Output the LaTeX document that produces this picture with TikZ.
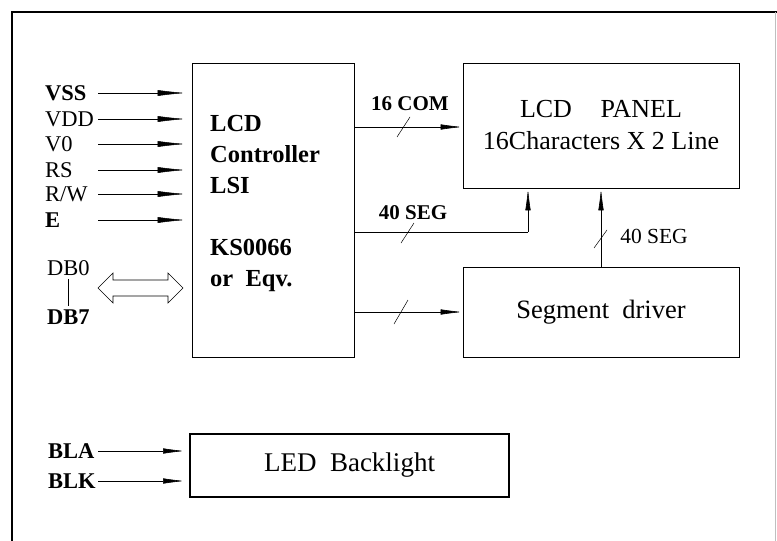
\documentclass[tikz,border=0pt]{standalone}
\usepackage{fontspec}
\setmainfont{Liberation Serif}
\usetikzlibrary{arrows.meta,calc}
\begin{document}
\begin{tikzpicture}[x=1pt,y=-1pt,
  blk/.style={draw,line width=0.8pt,inner sep=0pt},
  lab/.style={anchor=west,inner sep=0pt,font=\fontsize{22.5}{22}\selectfont},
  blab/.style={lab,font=\fontsize{22.5}{22}\selectfont\bfseries},
  sig/.style={line width=0.5pt,-{Latex[length=28pt,width=6pt]}},
  sigs/.style={line width=0.6pt,-{Latex[length=22pt,width=5.5pt]}},
  wire/.style={line width=0.6pt},
  slash/.style={line width=0.5pt}
]
\useasboundingbox (0,0) rectangle (777,541);
% frame
\draw[line width=2pt] (777,12) -- (12,12) -- (12,541);
\draw[black!25,line width=0.8pt] (775,12) -- (775,541);

% blocks
\node[blk,minimum width=162pt,minimum height=294pt] (ctrl) at (273,210) {};
\node[anchor=west,inner sep=0pt,align=left,font=\fontsize{24.5}{31}\selectfont\bfseries] (ctrltxt) at (210,203)
  {LCD\\Controller\\LSI\\[31pt]KS0066\\or\ \ Eqv.};
\node[blk,minimum width=276pt,minimum height=125pt,align=center,font=\fontsize{26}{32}\selectfont] (panel) at (601,125.5)
  {LCD\hspace{1.1em}PANEL\\16Characters X 2 Line};
\node[blk,minimum width=276pt,minimum height=90pt,font=\fontsize{26.5}{30}\selectfont] (seg) at (601,312) {Segment\ \ driver};
\node[draw,line width=2pt,inner sep=0pt,minimum width=319pt,minimum height=63pt,font=\fontsize{27}{30}\selectfont] (led) at (349.5,465.5) {LED\ \ Backlight\hspace{16pt}};

% input labels
\node[blab] (lvss) at (45,93) {VSS};
\node[lab] (lvdd) at (45,119) {VDD};
\node[lab] (lv0) at (45,144) {V0};
\node[lab] (lrs) at (45,170) {RS};
\node[lab] (lrw) at (45,194) {R/W};
\node[blab] (le) at (45,220) {E};
\node[lab] (ldb0) at (47,268) {DB0};
\node[blab] (ldb7) at (47,317) {DB7};
\node[blab] (lbla) at (48,451) {BLA};
\node[blab] (lblk) at (48,481) {BLK};
\draw[line width=1.2pt] ($(ldb0.south)+(0,3)$) -- ($(ldb7.north)+(0,-3)$);

\coordinate (sx) at (98,0);
\foreach \n in {lvss,lvdd,lv0,lrs,lrw,le}
  \draw[sig] (\n -| sx) -- ([xshift=-6pt]\n -| ctrl.west);
\draw[sigs] (lbla -| sx) -- ([xshift=-4pt]lbla -| led.west);
\draw[sigs] (lblk -| sx) -- ([xshift=-4pt]lblk -| led.west);

% data bus double arrow
\draw[line width=0.6pt] (98,288) -- (113,273) -- (113,280) -- (168,280) -- (168,273) -- (183,288)
  -- (168,303) -- (168,296) -- (113,296) -- (113,303) -- cycle;

% 16 COM
\coordinate (com) at (0,127);
\draw[sigs] (ctrl.east |- com) -- (panel.west |- com);
\draw[slash] (397,137) -- ++(13,-20);
\node[font=\fontsize{21}{21}\selectfont\bfseries,inner sep=0pt] (lcom) at (410,104) {16 COM};

% 40 SEG to panel
\coordinate (sc) at (528,232);
\draw[wire] (ctrl.east |- sc) -- (sc);
\draw[sigs] (sc) -- (sc |- panel.south);
\draw[slash] (401,243) -- ++(13,-20);
\node[font=\fontsize{21}{21}\selectfont\bfseries,inner sep=0pt] (lseg) at (413,213) {40 SEG};

% to segment driver
\draw[sigs] (ctrl.east |- seg.west) -- (seg.west);
\draw[slash] (394,324) -- ++(14,-24);

% segment driver to panel
\draw[sigs] (seg.north) -- (panel.south);
\draw[slash] (594,248) -- ++(13,-18);
\node[font=\fontsize{21.5}{21}\selectfont,inner sep=0pt] (lseg2) at (654,236) {40 SEG};
\end{tikzpicture}
\end{document}
